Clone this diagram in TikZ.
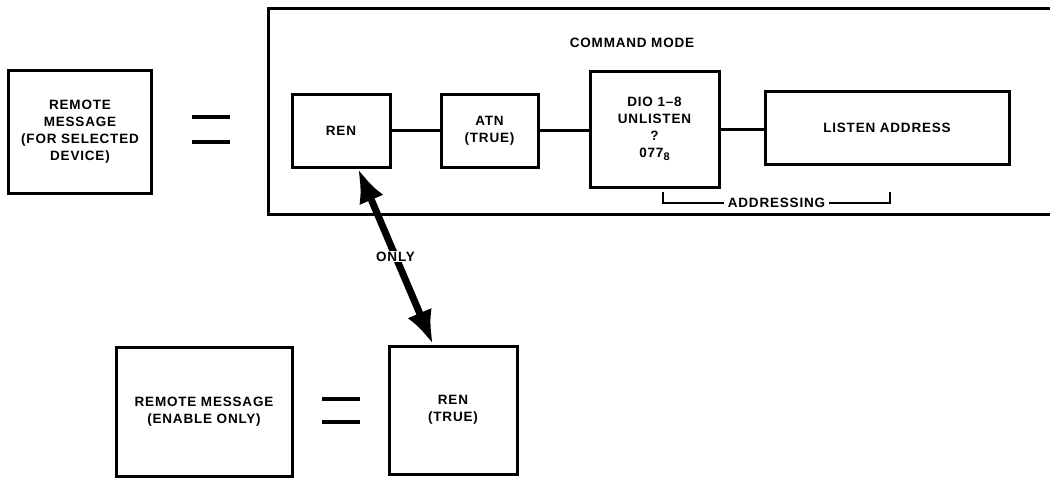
\documentclass[tikz,border=0pt]{standalone}
\usepackage{fontspec}
\setmainfont{Liberation Sans}[LetterSpace=6]
\setsansfont{Liberation Sans}[LetterSpace=6]
\usetikzlibrary{arrows.meta, positioning, calc}
\tikzset{every node/.style={font=\sffamily\bfseries\fontsize{13.5}{17}\selectfont, align=center}}
\tikzset{
  box/.style={draw, line width=3pt, inner sep=0pt},
  link/.style={line width=3pt},
  eqbar/.style={line width=3.5pt},
  biarrow/.style={{Latex[length=34pt,width=26pt]}-{Latex[length=34pt,width=26pt]}, line width=7pt},
}
\newcommand{\octal}[1]{\raisebox{-3pt}{\fontsize{11}{11}\selectfont #1}}

\begin{document}
\begin{tikzpicture}[x=1pt, y=-1pt]
    \useasboundingbox (0,0) rectangle (1050,479);
    % selected device message
    \node[box, minimum width=143pt, minimum height=123pt] (selmsg) at (80,132) {REMOTE\\MESSAGE\\(FOR SELECTED\\DEVICE)};
    \draw[eqbar] (192,117) -- (230,117) (192,142) -- (230,142);
    % command mode frame, open at the right
    \draw[link] (1052,8) -| (268,214) -- (1052,214);
    \node (cmdmode) at (632,43) {COMMAND MODE};
    \node[box, minimum width=98pt, minimum height=73pt] (ren) at (341,130.5) {REN};
    \node[box, minimum width=97pt, minimum height=73pt] (atn) at (489.5,130.5) {ATN\\(TRUE)};
    \node[box, minimum width=129pt, minimum height=116pt] (dio) at (654.5,129) {DIO 1–8\\UNLISTEN\\?\\077\octal{8}};
    \node[box, minimum width=244pt, minimum height=73pt] (listen) at (887,127.5) {LISTEN ADDRESS};
    \draw[link] (ren) -- (atn);
    \draw[link] (atn.east) -- (atn.east -| dio.west);
    \draw[link] (dio.east) -- (dio.east -| listen.west);
    \coordinate (addl) at (663,192);
    \coordinate (addr) at (890,192);
    \draw[line width=1.5pt] (addl) -- ++(0,11) -- node[fill=white, inner xsep=4pt, inner ysep=1pt] {ADDRESSING} ($(addr)+(0,11)$) -- (addr);
    % enable only message
    \node[box, minimum width=176pt, minimum height=129pt] (enmsg) at (204,411.5) {REMOTE MESSAGE\\(ENABLE ONLY)};
    \draw[eqbar] (322,399) -- (360,399) (322,422) -- (360,422);
    \node[box, minimum width=128pt, minimum height=128pt] (rentrue) at (453,410) {REN\\(TRUE)};
    \draw[biarrow] ([xshift=17pt]ren.south) -- node[fill=white, inner sep=1pt] {ONLY} ([xshift=-20pt]rentrue.north);
\end{tikzpicture}
\end{document}
